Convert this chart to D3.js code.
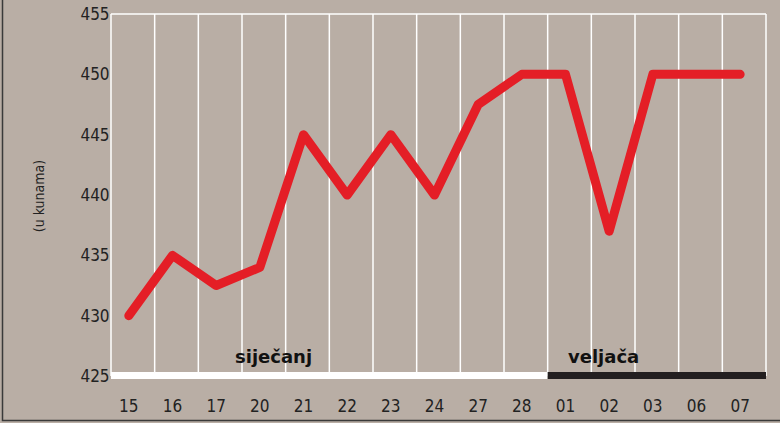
<!DOCTYPE html><html><head><meta charset="utf-8">
<script src="https://cdn.jsdelivr.net/npm/d3@7"></script>
<style>body{margin:0;background:#b9aea5}</style></head><body>
<svg id="c" width="780" height="423"></svg>
<script>
const categories=["15","16","17","20","21","22","23","24","27","28","01","02","03","06","07"];
const values=[430,435,432.5,434,445,440,445,440,447.5,450,450,437,450,450,450];
const yTicks=[425,430,435,440,445,450,455];
const months=[{name:"siječanj",from:0,to:10,color:"#ffffff"},{name:"veljača",from:10,to:15,color:"#231f20"}];
const svg=d3.select("#c");
svg.append("rect").attr("width",780).attr("height",423).attr("fill","#b9aea5");
svg.append("path").attr("d","M2.5,0V420.5H780").attr("fill","none").attr("stroke","#3a3a3a").attr("stroke-width",1.5);
const x=d3.scaleBand().domain(categories).range([111,766]);
const y=d3.scaleLinear().domain([425,455]).range([376,14]);
const font="'Liberation Sans Narrow','DejaVu Sans Condensed',sans-serif";
// grid
const g=svg.append("g");
categories.forEach((c,i)=>{g.append("line").attr("x1",x(c)).attr("x2",x(c)).attr("y1",y(455)).attr("y2",y(425)).attr("stroke","#fff").attr("stroke-width",1.5);});
g.append("line").attr("x1",766).attr("x2",766).attr("y1",y(455)).attr("y2",y(425)).attr("stroke","#fff").attr("stroke-width",1.5);
g.append("line").attr("x1",111).attr("x2",766).attr("y1",y(455)).attr("y2",y(455)).attr("stroke","#fff").attr("stroke-width",1.5);
// month bars
months.forEach(m=>{
  const x0=x(categories[m.from]), x1=m.to<categories.length?x(categories[m.to]):766;
  svg.append("rect").attr("x",x0).attr("y",372).attr("width",x1-x0).attr("height",7).attr("fill",m.color);
  svg.append("text").attr("x",m.from===0?235:568).attr("y",363).text(m.name).attr("font-family","'DejaVu Sans',sans-serif").attr("font-weight","bold").attr("font-size",18).attr("fill","#111");
});
yTicks.forEach(t=>svg.append("text").attr("x",95).attr("y",y(t)+6).attr("text-anchor","middle").text(t).attr("font-family",font).attr("font-size",17).attr("fill","#222"));
categories.forEach(c=>svg.append("text").attr("x",x(c)+x.bandwidth()/2-4).attr("y",412).attr("text-anchor","middle").text(c).attr("font-family",font).attr("font-size",17).attr("fill","#222"));
svg.append("text").attr("transform","translate(44,196) rotate(-90)").attr("text-anchor","middle").text("(u kunama)").attr("font-family",font).attr("font-size",14).attr("fill","#222");
const line=d3.line().x((d,i)=>x(categories[i])+x.bandwidth()/2-4).y(d=>y(d));
svg.append("path").datum(values).attr("d",line).attr("fill","none").attr("stroke","#e41e26").attr("stroke-width",9).attr("stroke-linecap","round").attr("stroke-linejoin","round");
</script></body></html>
